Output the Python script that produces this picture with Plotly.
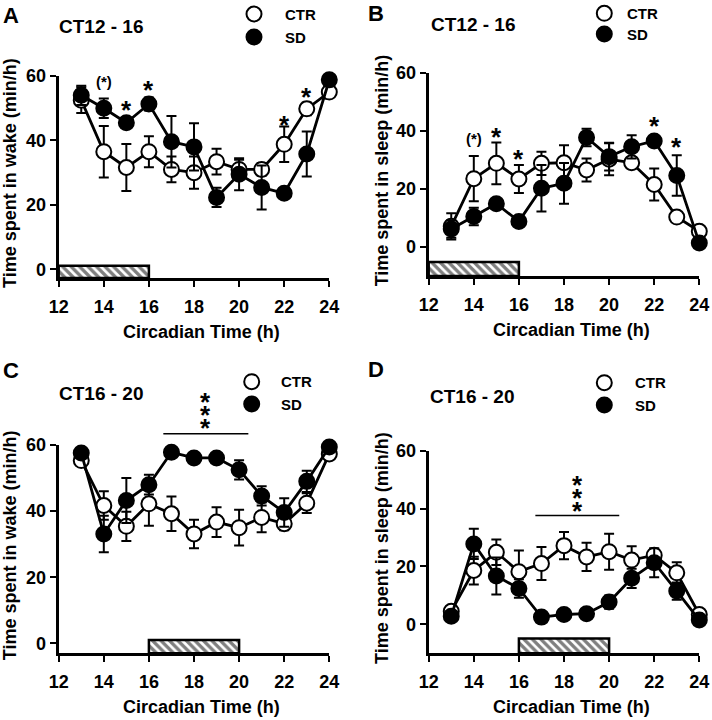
import plotly.graph_objects as go

FONT = "Liberation Sans, Arial, sans-serif"

hours = [13, 14, 15, 16, 17, 18, 19, 20, 21, 22, 23, 24]
x_ticks = [12, 14, 16, 18, 20, 22, 24]
y_ticks = [0, 20, 40, 60]

# A: wake, SD at CT12-16
ctr_wake_a = [52.5, 36.5, 31.6, 36.5, 31.0, 30.0, 33.4, 31.0, 31.0, 38.8, 49.8, 55.0]
ctr_wake_a_sem = [4.0, 8.0, 7.3, 4.8, 4.0, 5.0, 4.0, 3.0, 2.0, 5.5, 2.0, 2.0]
sd_wake_a = [54.0, 50.0, 45.5, 51.3, 39.6, 38.0, 22.3, 29.5, 25.4, 23.6, 35.8, 58.8]
sd_wake_a_sem = [3.0, 3.0, 1.5, 2.0, 8.0, 7.3, 3.0, 5.0, 6.8, 1.5, 7.0, 1.0]

# B: sleep, SD at CT12-16
ctr_sleep_b = [7.1, 23.5, 28.8, 23.4, 28.8, 29.0, 26.5, 30.2, 29.0, 21.5, 10.3, 5.4]
ctr_sleep_b_sem = [4.5, 7.8, 7.2, 4.8, 4.0, 6.0, 4.0, 5.5, 2.0, 5.5, 1.5, 1.0]
sd_sleep_b = [6.2, 10.5, 14.9, 8.8, 20.2, 21.9, 37.7, 31.1, 34.5, 36.5, 24.6, 1.4]
sd_sleep_b_sem = [3.0, 3.0, 1.5, 1.0, 8.0, 7.0, 3.0, 4.8, 4.0, 1.5, 7.0, 1.0]

# C: wake, SD at CT16-20
ctr_wake_c = [55.3, 41.7, 35.4, 42.2, 39.2, 33.1, 36.7, 35.0, 38.1, 36.2, 42.4, 57.3]
ctr_wake_c_sem = [1.5, 4.3, 4.4, 6.6, 5.2, 4.3, 4.5, 5.4, 4.5, 2.0, 3.0, 2.0]
sd_wake_c = [57.6, 33.1, 43.2, 48.0, 57.8, 56.1, 56.1, 52.5, 44.6, 39.6, 49.0, 59.4]
sd_wake_c_sem = [1.5, 5.5, 6.8, 3.0, 1.0, 1.0, 1.0, 2.9, 2.9, 4.3, 3.2, 1.0]

# D: sleep, SD at CT16-20
ctr_sleep_d = [4.5, 18.6, 24.9, 18.2, 21.0, 27.2, 23.3, 25.1, 22.2, 23.9, 17.8, 3.4]
ctr_sleep_d_sem = [1.0, 4.8, 4.4, 7.3, 5.7, 4.7, 4.9, 6.2, 4.8, 2.0, 3.7, 1.0]
sd_sleep_d = [2.8, 27.8, 16.7, 12.4, 2.5, 3.4, 3.7, 7.7, 15.9, 21.3, 11.5, 1.5]
sd_sleep_d_sem = [1.0, 5.2, 6.4, 3.2, 0.5, 0.5, 0.5, 2.3, 3.3, 5.0, 3.0, 1.0]

# sleep deprivation windows (CT start, end)
sd_window_ab = [12, 16]
sd_window_cd = [16, 20]

# significance marks
sig_x = [14, 15, 16, 22, 23]
sig_text = ["(*)", "*", "*", "*", "*"]
sig_a_y = [58.3, 51.6, 57.8, 46.9, 55.7]
sig_b_y = [37.5, 40.4, 32.6, 44.1, 36.9]
sig_span_c = [16.64, 20.41]
sig_span_d = [16.73, 20.45]
sig_line_c = 63.4
sig_line_d = 37.6
stars_c = [75.2, 71.2, 67.3]
stars_d = [50.4, 46.0, 41.5]

W, H = 712, 720


def px(x):
    return x / W


def py(y):
    return 1 - y / H


panels = [
    dict(k="", xd=(58.7, 329.3), yd=(76, 278), yr=(-2.7, 60), bar=(-2.7, 1.1),
         ctr=ctr_wake_a, ctr_e=ctr_wake_a_sem, sd=sd_wake_a, sd_e=sd_wake_a_sem,
         win=sd_window_ab, ytitle="Time spent in wake (min/h)"),
    dict(k="2", xd=(428.7, 699.3), yd=(72.7, 276), yr=(-10, 60), bar=(-10, -5.2),
         ctr=ctr_sleep_b, ctr_e=ctr_sleep_b_sem, sd=sd_sleep_b, sd_e=sd_sleep_b_sem,
         win=sd_window_ab, ytitle="Time spent in sleep (min/h)"),
    dict(k="3", xd=(58.7, 329.3), yd=(445, 653.3), yr=(-3, 60), bar=(-3, 1.0),
         ctr=ctr_wake_c, ctr_e=ctr_wake_c_sem, sd=sd_wake_c, sd_e=sd_wake_c_sem,
         win=sd_window_cd, ytitle="Time spent in wake (min/h)"),
    dict(k="4", xd=(428.7, 699.3), yd=(450.7, 653.3), yr=(-10, 60), bar=(-10, -4.9),
         ctr=ctr_sleep_d, ctr_e=ctr_sleep_d_sem, sd=sd_sleep_d, sd_e=sd_sleep_d_sem,
         win=sd_window_cd, ytitle="Time spent in sleep (min/h)"),
]
yranges = {p["k"]: p["yr"] for p in panels}


def dom(k, v):
    # value -> fraction of the y-axis domain (lets marks sit above the axis top)
    lo, hi = yranges[k]
    return (v - lo) / (hi - lo)


fig = go.Figure()
layout = {}
annotations = []
shapes = []

axis_common = dict(
    showgrid=False, zeroline=False, showline=True, linecolor="black", linewidth=3,
    ticks="outside", ticklen=6, tickwidth=2, tickcolor="black", automargin=False,
    tickfont=dict(family=FONT, size=18, color="black", weight="bold"),
)

for p in panels:
    k = p["k"]
    xa, ya = "x" + k, "y" + k
    layout["xaxis" + k] = dict(
        axis_common, domain=[px(p["xd"][0]), px(p["xd"][1])], range=[12, 24],
        tickvals=x_ticks, anchor=ya, ticklabelstandoff=4,
    )
    layout["yaxis" + k] = dict(
        axis_common, domain=[py(p["yd"][1]), py(p["yd"][0])], range=list(p["yr"]),
        tickvals=y_ticks, anchor=xa,
    )

    # hatched sleep-deprivation bar
    w0, w1 = p["win"]
    fig.add_trace(go.Bar(
        x=[(w0 + w1) / 2], y=[p["bar"][1] - p["bar"][0]], base=[p["bar"][0]],
        width=[w1 - w0], xaxis=xa, yaxis=ya, showlegend=False, hoverinfo="skip",
        marker=dict(color="white", line=dict(color="black", width=2.5),
                    pattern=dict(shape="\\", fgcolor="black", bgcolor="white",
                                 size=6, solidity=0.55)),
    ))

    for vals, err, fill in [(p["ctr"], p["ctr_e"], "white"), (p["sd"], p["sd_e"], "black")]:
        fig.add_trace(go.Scatter(
            x=hours, y=vals, xaxis=xa, yaxis=ya, mode="lines+markers",
            line=dict(color="black", width=2.8),
            marker=dict(size=15, color=fill, line=dict(color="black", width=2)),
            error_y=dict(type="data", array=err, visible=True, color="black",
                         thickness=2, width=5),
            cliponaxis=False, showlegend=False,
        ))

    # y axis title
    cx = 10 if k in ("", "3") else 382
    cy = (p["yd"][0] + p["yd"][1]) / 2 - 4
    annotations.append(dict(
        text=p["ytitle"], xref="paper", yref="paper", x=px(cx), y=py(cy),
        textangle=-90, showarrow=False, xanchor="center", yanchor="middle",
        font=dict(family=FONT, size=18, color="black", weight="bold"),
    ))
    # x axis title
    annotations.append(dict(
        text="Circadian Time (h)", xref="paper", yref="paper",
        x=px((p["xd"][0] + p["xd"][1]) / 2 + 7), y=py(p["yd"][1] + 54),
        showarrow=False, xanchor="center", yanchor="middle",
        font=dict(family=FONT, size=18, color="black", weight="bold"),
    ))

# panel letters, titles, legends
heads = [
    ("A", (10.5, 15), "CT12 - 16", (100.7, 26.7), (254, 14, 37), 283),
    ("B", (376, 13), "CT12 - 16", (473, 25), (604.3, 13.3, 34), 625.3),
    ("C", (11, 371), "CT16 - 20", (100.7, 393.3), (251.7, 381.7, 404), 279.3),
    ("D", (376, 370), "CT16 - 20", (471.5, 396.7), (604.3, 382.7, 405), 632.7),
]
for letter, lp, title, tp, lg, tx in heads:
    annotations.append(dict(
        text=letter, xref="paper", yref="paper", x=px(lp[0]), y=py(lp[1]),
        showarrow=False, xanchor="center", yanchor="middle",
        font=dict(family=FONT, size=22, color="black", weight="bold"),
    ))
    annotations.append(dict(
        text=title, xref="paper", yref="paper", x=px(tp[0]), y=py(tp[1]),
        showarrow=False, xanchor="center", yanchor="middle",
        font=dict(family=FONT, size=19, color="black", weight="bold"),
    ))
    for yy, fill, name in [(lg[1], "white", "CTR"), (lg[2], "black", "SD")]:
        shapes.append(dict(
            type="circle", xref="paper", yref="paper", xsizemode="pixel",
            ysizemode="pixel", xanchor=px(lg[0]), yanchor=py(yy),
            x0=-7.5, x1=7.5, y0=-7.5, y1=7.5, fillcolor=fill,
            line=dict(color="black", width=2),
        ))
        annotations.append(dict(
            text=name, xref="paper", yref="paper", x=px(tx), y=py(yy),
            showarrow=False, xanchor="left", yanchor="middle",
            font=dict(family=FONT, size=15, color="black", weight="bold"),
        ))

# significance asterisks for A and B
for k, ys in [("", sig_a_y), ("2", sig_b_y)]:
    for xv, yv, t in zip(sig_x, ys, sig_text):
        big = t == "*"
        annotations.append(dict(
            text=t, xref="x" + k, yref="y" + k, x=xv, y=yv, showarrow=False,
            xanchor="center", yanchor="middle", yshift=-7 if big else 0,
            font=dict(family=FONT, size=26 if big else 15, color="black", weight="bold"),
        ))

# bar + stacked asterisks for C and D (domain refs so they can sit above the axis)
for k, span, ly, stars in [("3", sig_span_c, sig_line_c, stars_c),
                           ("4", sig_span_d, sig_line_d, stars_d)]:
    shapes.append(dict(
        type="line", xref="x" + k, yref="y%s domain" % k,
        x0=span[0], x1=span[1], y0=dom(k, ly), y1=dom(k, ly),
        line=dict(color="black", width=1.5),
    ))
    xs = (span[0] + span[1]) / 2
    for yv in stars:
        annotations.append(dict(
            text="*", xref="x" + k, yref="y%s domain" % k, x=xs, y=dom(k, yv),
            showarrow=False, xanchor="center", yanchor="middle", yshift=-7,
            font=dict(family=FONT, size=26, color="black", weight="bold"),
        ))

fig.update_layout(
    width=W, height=H, margin=dict(l=0, r=0, t=0, b=0),
    paper_bgcolor="white", plot_bgcolor="white",
    annotations=annotations, shapes=shapes, showlegend=False,
    **layout,
)

fig.write_html("out.html", post_script="document.body.style.margin='0';",
               config={"displayModeBar": False})
